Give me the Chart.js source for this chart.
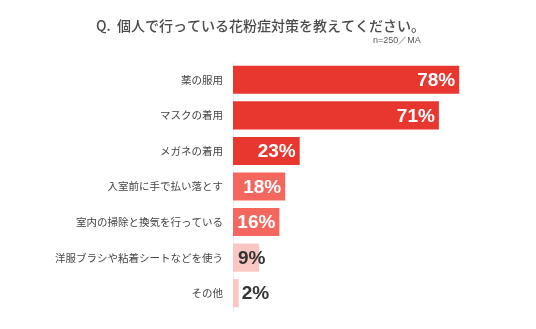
<!DOCTYPE html>
<html lang="ja">
<head>
<meta charset="utf-8">
<script src="https://cdn.jsdelivr.net/npm/chart.js@4.4.1/dist/chart.umd.min.js"></script>
<style>
  html, body { margin: 0; padding: 0; background: #fff; }
  #wrap { width: 536px; height: 329px; position: relative; }
</style>
</head>
<body>
<div id="wrap"><canvas id="chart" width="536" height="329"></canvas></div>
<script>
const titleText = 'Q.  個人で行っている花粉症対策を教えてください。';
const noteText = 'n=250／MA';

const categories = [
    '薬の服用',
    'マスクの着用',
    'メガネの着用',
    '入室前に手で払い落とす',
    '室内の掃除と換気を行っている',
    '洋服ブラシや粘着シートなどを使う',
    'その他'
];
const values = [78, 71, 23, 18, 16, 9, 2];
const barColors = ['#e8372f', '#e8372f', '#e8372f', '#f4675f', '#f4675f', '#fac6c4', '#fac6c4'];

const jpFont = '"Noto Sans CJK JP", "Noto Sans", sans-serif';

// title + sample note drawn straight onto the canvas
const headerPlugin = {
    id: 'header',
    afterDraw(chart) {
        const ctx = chart.ctx;
        ctx.save();
        ctx.fillStyle = '#4a4a4a';
        ctx.textBaseline = 'middle';
        ctx.textAlign = 'left';
        ctx.font = '500 14px ' + jpFont;
        ctx.fillText(titleText, 96, 26);
        ctx.fillStyle = '#555';
        ctx.font = '9px "Liberation Sans", Arial, sans-serif';
        ctx.fillText(noteText, 373, 41);
        ctx.restore();
    }
};

// percentage labels on the bars
const valueLabels = {
    id: 'valueLabels',
    afterDatasetsDraw(chart) {
        const ctx = chart.ctx;
        const meta = chart.getDatasetMeta(0);
        const xScale = chart.scales.x;
        ctx.save();
        ctx.font = 'bold 19px "Liberation Sans", Arial, sans-serif';
        ctx.textBaseline = 'middle';
        meta.data.forEach((bar, i) => {
            const txt = values[i] + '%';
            if (values[i] >= 10) {
                ctx.fillStyle = '#fff';
                ctx.textAlign = 'right';
                ctx.fillText(txt, bar.x - 4, bar.y + 1);
            } else {
                // short bars: label sits over the bar start, or just past a tiny bar
                const x = (bar.x - xScale.left < 10) ? bar.x + 3 : xScale.left + 5;
                ctx.fillStyle = '#333';
                ctx.textAlign = 'left';
                ctx.fillText(txt, x, bar.y + 1);
            }
        });
        ctx.restore();
    }
};

new Chart(document.getElementById('chart'), {
    type: 'bar',
    data: {
        labels: categories,
        datasets: [{
            data: values,
            backgroundColor: barColors,
            borderWidth: 0,
            barPercentage: 0.79,
            categoryPercentage: 1.0
        }]
    },
    options: {
        indexAxis: 'y',
        responsive: false,
        animation: false,
        layout: { padding: { left: 0, right: 13, top: 62, bottom: 18 } },
        plugins: {
            legend: { display: false },
            title: { display: false },
            tooltip: { enabled: false }
        },
        scales: {
            x: {
                min: 0,
                max: 100,
                display: false
            },
            y: {
                grid: { display: false },
                border: { display: true, color: '#eeeeee', width: 1 },
                ticks: {
                    color: '#444',
                    padding: 2,
                    font: { size: 10.5, family: jpFont }
                },
                afterFit(scale) { scale.width = 233; }
            }
        }
    },
    plugins: [headerPlugin, valueLabels]
});
</script>
</body>
</html>
